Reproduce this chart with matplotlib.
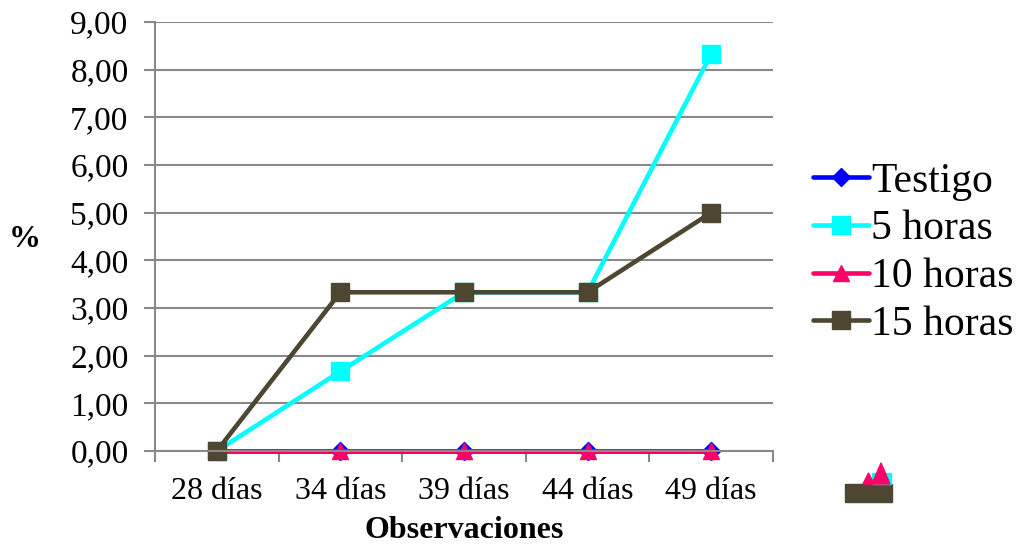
import matplotlib
matplotlib.use("Agg")
import matplotlib.pyplot as plt
from matplotlib.patches import Rectangle, Polygon
import numpy as np

categories = ["28 días", "34 días", "39 días", "44 días", "49 días"]
testigo = [0.0, 0.0, 0.0, 0.0, 0.0]
horas5 = [0.0, 1.67, 3.33, 3.33, 8.33]
horas10 = [0.0, 0.0, 0.0, 0.0, 0.0]
horas15 = [0.0, 3.33, 3.33, 3.33, 5.0]
series_names = ["Testigo", "5 horas", "10 horas", "15 horas"]
yticks = [0, 1, 2, 3, 4, 5, 6, 7, 8, 9]

plt.rcParams['font.family'] = ['Liberation Serif', 'DejaVu Serif']

W, H = 1023, 547
fig = plt.figure(figsize=(W/100, H/100), dpi=100)
ax = fig.add_axes([155/W, 1-451/H, (773-155)/W, (451-22)/H])

x = np.arange(len(categories))
styles = [
    (testigo, "#0000FF", "D", 9),
    (horas5, "#00FFFF", "s", 13),
    (horas10, "#FF0066", "^", 12),
    (horas15, "#4D4630", "s", 13),
]
for (vals, col, mk, ms), name in zip(styles, series_names):
    ax.plot(x, vals, color=col, marker=mk, markersize=ms, linewidth=3.3,
            label=name, clip_on=False, solid_capstyle='round')

ax.set_xlim(-0.5, len(categories) - 0.5)
ax.set_ylim(0, 9)
ax.set_yticks(yticks)
ax.set_yticklabels([f"{v:.2f}".replace(".", ",") for v in yticks], fontsize=24)
ax.set_xticks(x)
ax.set_xticklabels(categories, fontsize=23)
ax.set_xticks(np.arange(-0.5, len(categories)), minor=True)
ax.tick_params(axis='x', which='major', length=0, pad=19)
ax.tick_params(axis='x', which='minor', length=8, color='#888888', width=1.5)
ax.tick_params(axis='y', length=8, color='#888888', width=1.5, pad=11)
ax.grid(axis='y', color='#888888', linewidth=1.5)
ax.set_axisbelow(True)
for s in ['top', 'right']:
    ax.spines[s].set_visible(False)
for s in ['left', 'bottom']:
    ax.spines[s].set_color('#888888')
    ax.spines[s].set_linewidth(1.5)

ax.set_xlabel("Observaciones", fontsize=23, fontweight='bold', labelpad=7)
fig.text(25/W, 1-240/H, "%", fontsize=23, fontweight='bold', ha='center', va='center')

leg = fig.legend(loc='center left', bbox_to_anchor=(813/W, 1-253/H), frameon=False,
                 fontsize=30, handlelength=1.35, handletextpad=0.05, labelspacing=0.22,
                 borderaxespad=0, borderpad=0)

# stray legend-marker fragments at bottom right of the original image
fig.add_artist(Rectangle((845/W, 1-502/H), 47/W, 18/H, transform=fig.transFigure,
                         color="#4D4630"))
fig.add_artist(Rectangle((872/W, 1-484/H), 19/W, 11/H, transform=fig.transFigure,
                         color="#00FFFF"))
fig.add_artist(Polygon([(872/W, 1-484/H), (890/W, 1-484/H), (881/W, 1-463/H)],
                       closed=True, transform=fig.transFigure, color="#FF0066"))
fig.add_artist(Polygon([(863/W, 1-484/H), (874/W, 1-484/H), (868.5/W, 1-473/H)],
                       closed=True, transform=fig.transFigure, color="#FF0066"))

fig.savefig("out.png", dpi=100)
